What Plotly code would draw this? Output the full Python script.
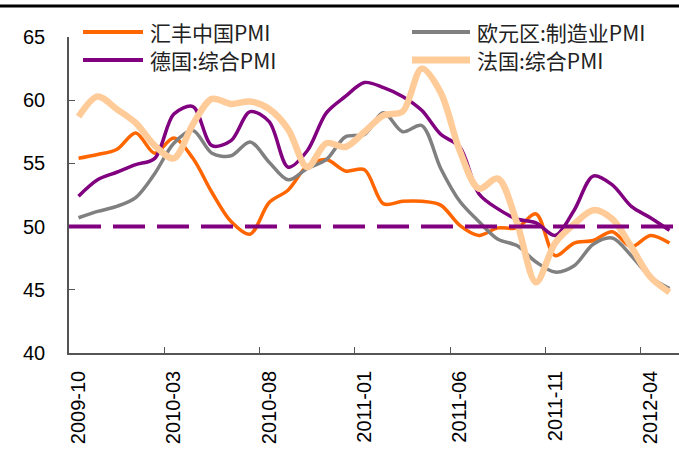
import plotly.graph_objects as go

# Monthly categories, 2009-10 through 2012-05
months = [
    "2009-10", "2009-11", "2009-12", "2010-01", "2010-02", "2010-03", "2010-04", "2010-05",
    "2010-06", "2010-07", "2010-08", "2010-09", "2010-10", "2010-11", "2010-12", "2011-01",
    "2011-02", "2011-03", "2011-04", "2011-05", "2011-06", "2011-07", "2011-08", "2011-09",
    "2011-10", "2011-11", "2011-12", "2012-01", "2012-02", "2012-03", "2012-04", "2012-05",
]

hsbc_china_pmi = [
    55.4, 55.7, 56.1, 57.4, 55.8, 57.0, 55.4, 52.7, 50.4, 49.4, 51.9, 52.9, 54.8, 55.3, 54.4, 54.5,
    51.8, 52.0, 52.0, 51.7, 50.1, 49.3, 49.9, 49.9, 51.0, 47.7, 48.7, 48.9, 49.6, 48.4, 49.3, 48.7,
]
eurozone_mfg_pmi = [
    50.7, 51.2, 51.6, 52.3, 54.2, 56.6, 57.6, 55.8, 55.6, 56.7, 55.1, 53.7, 54.6, 55.3, 57.1, 57.3,
    59.0, 57.5, 58.0, 54.6, 52.0, 50.4, 49.0, 48.5, 47.2, 46.4, 46.9, 48.6, 49.1, 47.7, 46.0, 45.1,
]
germany_composite_pmi = [
    52.4, 53.7, 54.3, 54.9, 55.4, 58.9, 59.5, 56.4, 56.8, 59.1, 58.3, 54.7, 56.0, 59.0, 60.3, 61.4,
    61.0, 60.3, 59.2, 57.3, 56.3, 52.6, 51.4, 50.6, 50.3, 49.3, 51.3, 54.0, 53.3, 51.6, 50.7, 49.7,
]
france_composite_pmi = [
    58.7, 60.3, 59.3, 58.2, 56.4, 55.4, 58.1, 60.1, 59.7, 59.9, 59.3, 57.7, 54.7, 56.6, 56.3, 57.5,
    58.8, 59.1, 62.5, 60.6, 56.0, 53.0, 53.8, 50.3, 45.6, 48.7, 50.2, 51.3, 50.6, 48.4, 46.0, 44.8,
]

series_names = ["汇丰中国PMI", "欧元区:制造业PMI", "德国:综合PMI", "法国:综合PMI"]
series_values = [hsbc_china_pmi, eurozone_mfg_pmi, germany_composite_pmi, france_composite_pmi]
series_colors = ["#FF6600", "#808080", "#800080", "#FFCC99"]
series_widths = [3.5, 3.5, 3.5, 6.5]

boom_bust_line = 50
y_ticks = [40, 45, 50, 55, 60, 65]

# plot-area geometry in pixels (used for converting legend placement to paper units)
W, H = 679, 450
ML, MR, MT, MB = 69, 0, 37, 97
PW, PH = W - ML - MR, H - MT - MB


def px_x(px):
    return (px - ML) / PW


def px_y(py):
    return (H - MB - py) / PH


fig = go.Figure()
for name, vals, color, width in zip(series_names, series_values, series_colors, series_widths):
    fig.add_trace(go.Scatter(
        x=months, y=vals, name=name, mode="lines",
        line=dict(color=color, width=width, shape="spline", smoothing=0.9),
        showlegend=False,
    ))

# 50-point expansion/contraction divider across the full plot width
fig.add_shape(
    type="line", xref="paper", yref="y", x0=0, x1=1, y0=boom_bust_line, y1=boom_bust_line,
    line=dict(color="#800080", width=4, dash="32px,12px"), layer="above",
)
# heavy rule along the top of the page
fig.add_shape(
    type="line", xref="paper", yref="paper", x0=px_x(0), x1=px_x(W), y0=px_y(6), y1=px_y(6),
    line=dict(color="#000000", width=3),
)

# two-column legend: line sample followed by its label
legend_slots = [(83, 143, 32), (412, 470, 32), (83, 143, 60), (412, 470, 60)]
for (x0, x1, yy), name, color, width in zip(legend_slots, series_names, series_colors, series_widths):
    fig.add_shape(
        type="line", xref="paper", yref="paper",
        x0=px_x(x0), x1=px_x(x1), y0=px_y(yy), y1=px_y(yy),
        line=dict(color=color, width=width + 0.5),
    )
    fig.add_annotation(
        xref="paper", yref="paper", x=px_x(x1 + 5), y=px_y(yy),
        xanchor="left", yanchor="middle", showarrow=False, text=name,
        font=dict(family="Noto Sans CJK SC", size=21, color="#222222"),
    )

axis_color = "#555555"
fig.update_layout(
    width=W, height=H,
    margin=dict(l=ML, r=MR, t=MT, b=MB),
    paper_bgcolor="white", plot_bgcolor="white",
    showlegend=False,
    xaxis=dict(
        type="category", range=[-0.5, len(months) - 0.5],
        tickmode="linear", tick0=0, dtick=5, tickson="boundaries",
        ticks="inside", ticklen=6, tickwidth=1, tickcolor=axis_color,
        showline=True, linecolor=axis_color, linewidth=1.5,
        showgrid=False, zeroline=False, tickangle=-90,
        tickfont=dict(family="Liberation Sans, Arial", size=20, color="#000000"),
        ticklabelstandoff=8,
    ),
    yaxis=dict(
        range=[40, 65], tickvals=y_ticks,
        ticks="inside", ticklen=6, tickwidth=1, tickcolor=axis_color,
        showline=True, linecolor=axis_color, linewidth=1.5,
        showgrid=False, zeroline=False,
        tickfont=dict(family="Liberation Sans, Arial", size=20, color="#000000"),
        ticklabelstandoff=18,
    ),
)

fig.write_html("out.html")
